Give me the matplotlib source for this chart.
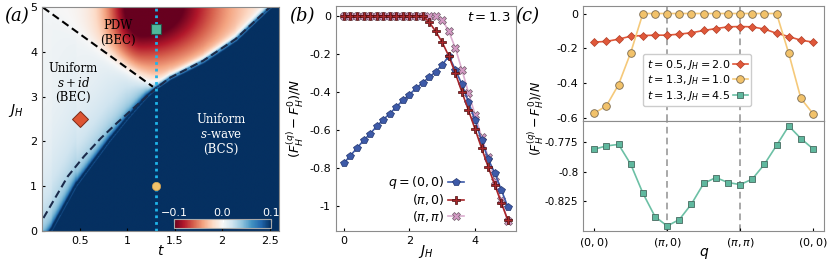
import numpy as np
import matplotlib
matplotlib.use('Agg')
import matplotlib.pyplot as plt

# ---------------- data ----------------
# panel (a): phase boundaries in the (t, J_H) plane
pdw_line_t = [0.11, 1.27]
pdw_line_J = [4.99, 3.22]
bcs_line_t = [0.115, 0.372, 0.545, 0.72, 0.89, 1.07, 1.31, 1.45, 1.80, 2.14, 2.49, 2.56]
bcs_line_J = [0.29, 1.22, 1.67, 2.07, 2.41, 2.75, 3.20, 3.42, 3.80, 4.28, 4.97, 5.05]
edge_t = [0.10, 0.20, 0.46, 0.81, 1.00, 1.20, 1.31, 1.45, 1.80, 2.14, 2.49, 2.60]
edge_J = [-0.30, 0.00, 1.00, 2.00, 2.50, 2.98, 3.20, 3.42, 3.80, 4.28, 4.97, 5.15]
pdw_peak = (1.15, 5.05, -0.13)   # t, J_H, value of strongest PDW gain
cut_t = 1.3
pts_a = {'diamond': (0.5, 2.5), 'square': (1.3, 4.5), 'circle': (1.3, 1.0)}

# panel (b): energy gain vs J_H at t = 1.3
JH = [0.0, 0.2, 0.4, 0.6, 0.8, 1.0, 1.2, 1.4, 1.6, 1.8, 2.0, 2.2, 2.4,
      2.6, 2.8, 3.0, 3.2, 3.4, 3.6, 3.8, 4.0, 4.2, 4.4, 4.6, 4.8, 5.0]
F_00 = [-0.773, -0.733, -0.694, -0.654, -0.619, -0.580, -0.545, -0.513, -0.478,
        -0.443, -0.413, -0.381, -0.351, -0.323, -0.293, -0.258, -0.211, -0.283,
        -0.360, -0.452, -0.548, -0.654, -0.750, -0.825, -0.912, -1.003]
F_pi0 = [0, 0, 0, 0, 0, 0, 0, 0, 0, 0, 0, 0, 0,
         -0.033, -0.082, -0.140, -0.211, -0.302, -0.400, -0.496, -0.594, -0.694,
         -0.792, -0.886, -0.980, -1.072]
F_pipi = [0, 0, 0, 0, 0, 0, 0, 0, 0, 0, 0, 0, 0, 0, -0.003,
          -0.021, -0.082, -0.170, -0.283, -0.404, -0.518, -0.636, -0.740,
          -0.865, -0.968, -1.075]

# panel (c): energy along the path (0,0)-(pi,0)-(pi,pi)-(0,0)
q_idx = list(range(19))
q_ticks = [0, 6, 12, 18]
q_labels = [r'$(0,0)$', r'$(\pi,0)$', r'$(\pi,\pi)$', r'$(0,0)$']
F_a = [-0.165, -0.161, -0.148, -0.131, -0.127, -0.125, -0.125, -0.119, -0.111, -0.098,
       -0.087, -0.077, -0.075, -0.077, -0.090, -0.114, -0.133, -0.154, -0.165]
F_b = [-0.575, -0.533, -0.410, -0.226, 0, 0, 0, 0, 0, 0, 0, 0, 0, 0, 0, 0,
       -0.230, -0.490, -0.578]
F_c = [-0.7808, -0.7780, -0.7767, -0.7936, -0.8183, -0.8383, -0.8463, -0.8408, -0.8275,
       -0.8100, -0.8050, -0.8092, -0.8110, -0.8063, -0.7936, -0.7775, -0.7610, -0.7717,
       -0.7805]

plt.rcParams['font.size'] = 8
plt.rcParams['xtick.direction'] = 'in'
plt.rcParams['ytick.direction'] = 'in'
plt.rcParams['xtick.major.size'] = 2.5
plt.rcParams['ytick.major.size'] = 2.5
plt.rcParams['axes.edgecolor'] = '#8c8c8c'
plt.rcParams['axes.linewidth'] = 0.8

W, H = 830., 260.
fig = plt.figure(figsize=(8.3, 2.6), dpi=100)


def box(l, r, t, b):
    return [l / W, 1 - b / H, (r - l) / W, (b - t) / H]


ax_a = fig.add_axes(box(42, 279, 7, 231))
ax_b = fig.add_axes(box(335.7, 516, 5.5, 231))
ax_c1 = fig.add_axes(box(583.3, 824, 5.7, 121))
ax_c2 = fig.add_axes(box(583.3, 824, 121, 231))

# ---------------- panel (a) ----------------
tg = np.linspace(0.1, 2.6, 400)
Jg = np.linspace(0, 5, 400)
T, J = np.meshgrid(tg, Jg)
je1 = np.interp(tg, edge_t, edge_J)
sl = np.gradient(je1, tg)
Je = np.interp(T, edge_t, edge_J)
SL = np.broadcast_to(sl, T.shape)
# distance above the BCS edge, in pixels
dpx = (J - Je) * 44.6 / np.sqrt(1 + (SL * 44.6 / 96) ** 2)
k = (pdw_line_J[1] - pdw_line_J[0]) / (pdw_line_t[1] - pdw_line_t[0])
Jb = pdw_line_J[0] + (T - pdw_line_t[0]) * k
pdw_mask = 1 / (1 + np.exp(-(J - Jb) * 44.6 / 6))
sig_t = np.where(T < pdw_peak[0], 0.36, 0.85)
pdw = pdw_peak[2] * np.exp(-((T - pdw_peak[0]) / sig_t) ** 2
                           - ((pdw_peak[1] - J) / 1.35) ** 2) * pdw_mask
glow = np.where(dpx > 0, 0.04 * np.exp(-dpx / 28) * (1 - pdw_mask)
                + 0.05 * np.exp(-dpx / 4), 0)
swave = 0.15 / (1 + np.exp(dpx / 1.5))
field = 0.003 * (1 - pdw_mask) + pdw + glow + swave

im = ax_a.imshow(field, extent=[0.1, 2.6, 0, 5], origin='lower', aspect='auto',
                 cmap='RdBu', vmin=-0.1, vmax=0.1, interpolation='bilinear')
ax_a.plot(pdw_line_t, pdw_line_J, color='black', lw=1.5, dashes=(3.7, 2))
ax_a.plot(bcs_line_t, bcs_line_J, color='#1b2b4b', lw=1.5, dashes=(3.7, 2))
ax_a.axvline(cut_t, color='#1fb4e8', lw=2, linestyle=(0, (1, 1.4)))
ax_a.plot(*pts_a['diamond'], marker='D', ms=8, color='#dd5533', mec='#7a2a18', mew=0.7)
ax_a.plot(*pts_a['square'], marker='s', ms=7.5, color='#4fb89b', mec='#2b4f46', mew=0.8, zorder=5)
ax_a.plot(*pts_a['circle'], marker='o', ms=6, color='#f2c26a', mec='#d0a050', mew=0.5, zorder=5)
ax_a.set_xlim(0.1, 2.6)
ax_a.set_ylim(0, 5)
ax_a.set_xticks([0.5, 1, 1.5, 2, 2.5], ['0.5', '1', '1.5', '2', '2.5'])
ax_a.set_yticks([0, 1, 2, 3, 4, 5], ['0', '1', '2', '3', '4', '5'])
ax_a.set_xlabel(r'$t$', fontsize=10, labelpad=-1)
ax_a.set_ylabel(r'$J_H$', fontsize=10, rotation=0, labelpad=10)
ax_a.text(0.9, 4.42, 'PDW\n(BEC)', ha='center', va='center', fontsize=8.5,
          family='DejaVu Serif', linespacing=1.1)
ax_a.text(0.43, 3.3, 'Uniform\n$s+id$\n(BEC)', ha='center', va='center', fontsize=8.5,
          family='DejaVu Serif', math_fontfamily='dejavuserif', linespacing=1.1)
ax_a.text(1.99, 2.15, 'Uniform\n$s$-wave\n(BCS)', ha='center', va='center', fontsize=8.5,
          family='DejaVu Serif', math_fontfamily='dejavuserif', color='white', linespacing=1.2)

cax = fig.add_axes(box(174, 271, 219, 228))
cb = fig.colorbar(im, cax=cax, orientation='horizontal', ticks=[-0.1, 0, 0.1])
cax.xaxis.set_ticks_position('top')
cax.tick_params(colors='white', labelsize=8, length=2, pad=1)
cb.outline.set_edgecolor('#aaaaaa')
cb.ax.set_xticklabels(['\u22120.1', '0.0', '0.1'])

# ---------------- panel (b) ----------------
ax_b.plot(JH, F_00, color='#3d5aa8', marker='p', ms=5.5, mec='#22356e', mew=0.5, lw=1.2,
          label=r'$q=(0,0)$', zorder=3)
ax_b.plot(JH, F_pi0, color='#a8262a', marker='P', ms=5.5, mec='#4a0c0c', mew=0.5, lw=1.2,
          label=r'$(\pi,0)$', zorder=4)
ax_b.plot(JH, F_pipi, color='#dcaed0', marker='X', ms=5.5, mfc='#d49ac4', mec='#6e5a68',
          mew=0.5, lw=1.2, label=r'$(\pi,\pi)$', zorder=2)
ax_b.set_xticks([0, 2, 4], ['0', '2', '4'])
ax_b.set_yticks([0, -0.2, -0.4, -0.6, -0.8, -1], ['0', '-0.2', '-0.4', '-0.6', '-0.8', '-1'])
ax_b.set_xlabel(r'$J_H$', fontsize=10, labelpad=-2)
ax_b.set_ylabel(r'$(F_H^{(q)}-F_H^{0})/N$', fontsize=9.5, labelpad=2)
ax_b.text(0.97, 0.945, r'$t=1.3$', transform=ax_b.transAxes, ha='right', va='center', fontsize=9.5)
ax_b.legend(loc='lower right', bbox_to_anchor=(0.755, 0.0), frameon=False, markerfirst=False,
            fontsize=9, handlelength=1.3, handletextpad=0.3, labelspacing=0.1,
            borderaxespad=0.2)

# ---------------- panel (c) ----------------
for ax in (ax_c1, ax_c2):
    for x in (6, 12):
        ax.axvline(x, color='#999999', lw=1.2, dashes=(4, 2.5), zorder=0)
    ax.set_xlim(-0.9, 18.9)
    ax.set_xticks(q_ticks)

ax_c1.plot(q_idx, F_a, color='#e0583a', marker='D', ms=4.5, mec='#b03e26', mew=0.5, lw=1.2,
           label=r'$t=0.5, J_H=2.0$')
ax_c1.plot(q_idx, F_b, color='#f5c97a', marker='o', ms=5.5, mfc='#f2c26a', mec='#7a6a50',
           mew=0.6, lw=1.2, label=r'$t=1.3, J_H=1.0$')
ax_c1.plot([], [], color='#6cc0a5', marker='s', ms=5, mfc='#5fb89e', mec='#466a60', mew=0.6,
           lw=1.2, label=r'$t=1.3, J_H=4.5$')
ax_c1.set_ylim(-0.62, 0.045)
ax_c1.set_yticks([0, -0.2, -0.4, -0.6], ['0', '-0.2', '-0.4', '-0.6'])
ax_c1.set_xticklabels([])
ax_c1.tick_params(axis='x', length=0)
ax_c1.legend(loc='lower right', bbox_to_anchor=(0.72, 0.08), markerfirst=False, fontsize=8,
             handlelength=1.3, handletextpad=0.3, labelspacing=0.15, borderpad=0.3,
             framealpha=1, edgecolor='#cccccc')

ax_c2.plot(q_idx, F_c, color='#6cc0a5', marker='s', ms=5, mfc='#5fb89e', mec='#466a60',
           mew=0.6, lw=1.2, clip_on=False, zorder=3)
ax_c2.set_yticks([-0.775, -0.8, -0.825], ['-0.775', '-0.8', '-0.825'])
ax_c2.tick_params(axis='y', labelsize=7.5)
ax_c2.set_xticklabels(q_labels)
ax_c2.set_xlabel(r'$q$', fontsize=10, labelpad=-2)
fig.text(536 / W, 1 - 118 / H, r'$(F_H^{(q)}-F_H^{0})/N$', rotation=90, ha='center',
         va='center', fontsize=9)

# panel labels
for x, lab in ((17, '(a)'), (302, '(b)'), (527, '(c)')):
    fig.text(x / W, 1 - 16 / H, lab, ha='center', va='center', fontsize=13,
             family='DejaVu Serif', style='italic')

fig.savefig('out.png', dpi=100)
